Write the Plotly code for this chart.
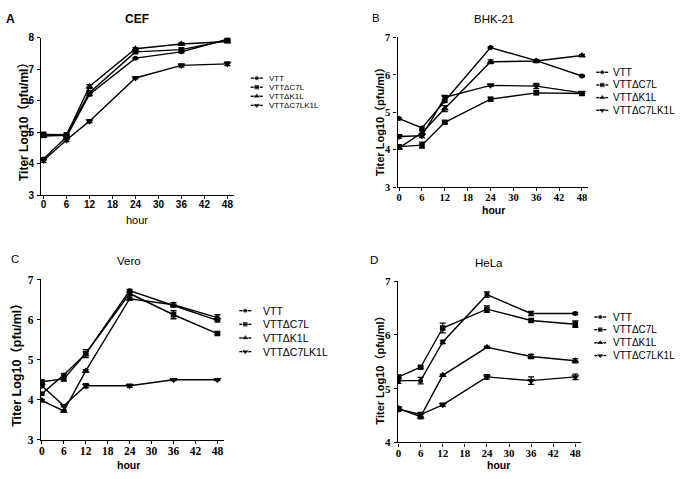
import plotly.graph_objects as go

W, H = 683, 479

hours = [0, 6, 12, 24, 36, 48]
x_ticks = [0, 6, 12, 18, 24, 30, 36, 42, 48]
series_names = ["VTT", "VTTΔC7L", "VTTΔK1L", "VTTΔC7LK1L"]
symbols = ["circle", "square", "triangle-up", "triangle-down"]
msizes = [5, 5.5, 7, 7]

# Panel A - CEF
cef_vtt = [4.15, 4.85, 6.20, 7.35, 7.55, 7.95]
cef_c7l = [4.93, 4.92, 6.25, 7.55, 7.62, 7.92]
cef_k1l = [4.88, 4.90, 6.45, 7.65, 7.80, 7.88]
cef_c7lk1l = [4.10, 4.75, 5.35, 6.72, 7.12, 7.17]
cef_err = [[0.04, 0.03, 0.05, 0.02, 0.03, 0.03],
           [0.05, 0.03, 0.08, 0.03, 0.05, 0.03],
           [0.05, 0.04, 0.06, 0.03, 0.04, 0.04],
           [0.06, 0.05, 0.05, 0.03, 0.05, 0.06]]

# Panel B - BHK-21
bhk_vtt = [4.83, 4.58, 5.30, 6.73, 6.38, 5.97]
bhk_c7l = [4.08, 4.12, 4.73, 5.35, 5.52, 5.50]
bhk_k1l = [4.05, 4.45, 5.10, 6.35, 6.37, 6.52]
bhk_c7lk1l = [4.35, 4.37, 5.40, 5.72, 5.70, 5.52]
bhk_err = [[0.02, 0.03, 0.03, 0.02, 0.03, 0.02],
           [0.05, 0.08, 0.03, 0.05, 0.05, 0.04],
           [0.04, 0.06, 0.08, 0.05, 0.04, 0.03],
           [0.05, 0.05, 0.05, 0.03, 0.07, 0.03]]

# Panel C - Vero
vero_vtt = [4.15, 4.62, 5.15, 6.72, 6.35, 5.98]
vero_c7l = [4.45, 4.52, 5.15, 6.65, 6.12, 5.65]
vero_k1l = [3.98, 3.72, 4.72, 6.52, 6.37, 6.05]
vero_c7lk1l = [4.35, 3.85, 4.35, 4.35, 4.50, 4.50]
vero_err = [[0.03, 0.03, 0.05, 0.03, 0.03, 0.04],
            [0.04, 0.05, 0.10, 0.04, 0.10, 0.03],
            [0.03, 0.03, 0.03, 0.04, 0.05, 0.07],
            [0.03, 0.03, 0.05, 0.04, 0.02, 0.02]]

# Panel D - HeLa
hela_vtt = [5.15, 5.15, 5.87, 6.75, 6.40, 6.40]
hela_c7l = [5.22, 5.40, 6.13, 6.48, 6.27, 6.20]
hela_k1l = [4.63, 4.48, 5.25, 5.77, 5.60, 5.52]
hela_c7lk1l = [4.62, 4.52, 4.70, 5.22, 5.15, 5.22]
hela_err = [[0.05, 0.06, 0.03, 0.05, 0.04, 0.02],
            [0.03, 0.02, 0.09, 0.06, 0.02, 0.06],
            [0.03, 0.04, 0.02, 0.02, 0.04, 0.04],
            [0.04, 0.04, 0.03, 0.04, 0.07, 0.05]]

panels = [
    dict(letter="A", title="CEF", series=[cef_vtt, cef_c7l, cef_k1l, cef_c7lk1l], err=cef_err,
         xpx=(39.3, 233), xr=(-0.6, 49.8), ypx=(32.5, 194), yr=(3, 8), yticks=[3, 4, 5, 6, 7, 8],
         bold=True, tickfont=dict(family="Liberation Sans", size=10),
         letter_pos=(9, 13), title_pos=(135, 13), ytitle_pos=(22, 116), ytitle_size=12,
         xtitle_pos=(135, 219), leg_rows=[74, 83.3, 92.6, 101.9], leg_mx=255.5, leg_tx=267, leg_size=8),
    dict(letter="B", title="BHK-21", series=[bhk_vtt, bhk_c7l, bhk_k1l, bhk_c7lk1l], err=bhk_err,
         xpx=(396.7, 588), xr=(-0.42, 49.66), ypx=(32.3, 185.7), yr=(3, 7), yticks=[3, 4, 5, 6, 7],
         bold=False, tickfont=dict(family="Liberation Serif", size=10.5),
         letter_pos=(375, 12), title_pos=(493, 13), ytitle_pos=(379, 116), ytitle_size=11,
         xtitle_pos=(493, 209), leg_rows=[68, 81, 94, 107], leg_mx=602, leg_tx=612, leg_size=10),
    dict(letter="C", title="Vero", series=[vero_vtt, vero_c7l, vero_k1l, vero_c7lk1l], err=vero_err,
         xpx=(39, 223), xr=(-0.27, 49.9), ypx=(280.5, 445), yr=(3, 7), yticks=[3, 4, 5, 6, 7],
         bold=False, tickfont=dict(family="Liberation Serif", size=11.5),
         letter_pos=(13, 260), title_pos=(127, 262), ytitle_pos=(15, 365), ytitle_size=12.5,
         xtitle_pos=(127, 471), leg_rows=[312.5, 326.5, 340.5, 354.5], leg_mx=244, leg_tx=261, leg_size=10.5),
    dict(letter="D", title="HeLa", series=[hela_vtt, hela_c7l, hela_k1l, hela_c7lk1l], err=hela_err,
         xpx=(397, 580.7), xr=(-0.19, 49.55), ypx=(282.3, 447.7), yr=(4, 7), yticks=[4, 5, 6, 7],
         bold=False, tickfont=dict(family="Liberation Serif", size=11),
         letter_pos=(373, 261), title_pos=(488, 264), ytitle_pos=(379, 371), ytitle_size=11,
         xtitle_pos=(498, 471), leg_rows=[319, 332, 345.5, 358.5], leg_mx=600, leg_tx=612, leg_size=10),
]

fig = go.Figure()
layout = dict(width=W, height=H, margin=dict(l=0, r=0, t=0, b=0),
              paper_bgcolor="white", plot_bgcolor="rgba(0,0,0,0)", showlegend=False,
              annotations=[])


def px2x(px):
    return px / W


def px2y(py):
    return 1 - py / H


for i, p in enumerate(panels):
    n = i + 1
    xa = "x" if n == 1 else f"x{n}"
    ya = "y" if n == 1 else f"y{n}"
    for s, vals in enumerate(p["series"]):
        fig.add_trace(go.Scatter(
            x=hours, y=vals, xaxis=xa, yaxis=ya, mode="lines+markers",
            name=series_names[s],
            line=dict(color="black", width=1.4),
            marker=dict(symbol=symbols[s], size=msizes[s], color="black"),
            error_y=dict(type="data", array=p["err"][s], color="black", thickness=1.3, width=3),
        ))
    tf = dict(p["tickfont"])
    tf["color"] = "black"
    tf["weight"] = "bold"
    axis_common = dict(showgrid=False, zeroline=False, showline=True, linecolor="black", linewidth=1.4,
                       ticks="outside", ticklen=3, tickwidth=1.2, tickcolor="black", tickfont=tf)
    layout["xaxis" if n == 1 else f"xaxis{n}"] = dict(
        axis_common, domain=[px2x(p["xpx"][0]), px2x(p["xpx"][1])], range=list(p["xr"]),
        tickvals=x_ticks, anchor=ya, ticklabelstandoff=-3)
    layout["yaxis" if n == 1 else f"yaxis{n}"] = dict(
        axis_common, domain=[px2y(p["ypx"][1]), px2y(p["ypx"][0])], range=list(p["yr"]),
        tickvals=p["yticks"], anchor=xa, ticklabelstandoff=1)

    fam = "Liberation Sans, Noto Sans CJK SC"
    wt = "bold" if p["bold"] else "normal"
    ann = layout["annotations"]
    ann.append(dict(x=px2x(p["letter_pos"][0]), y=px2y(p["letter_pos"][1]), xref="paper", yref="paper",
                    text=p["letter"], showarrow=False, xanchor="center", yanchor="middle",
                    font=dict(family=fam, size=12 if p["bold"] else 11.5, color="black", weight=wt)))
    ann.append(dict(x=px2x(p["title_pos"][0]), y=px2y(p["title_pos"][1]), xref="paper", yref="paper",
                    text=p["title"], showarrow=False, xanchor="center", yanchor="middle",
                    font=dict(family=fam, size=12 if p["bold"] else 11.5, color="black", weight=wt)))
    ann.append(dict(x=px2x(p["ytitle_pos"][0]), y=px2y(p["ytitle_pos"][1]), xref="paper", yref="paper",
                    text="Titer Log10（pfu/ml）", textangle=-90, showarrow=False,
                    xanchor="center", yanchor="middle",
                    font=dict(family=fam, size=p["ytitle_size"], color="black", weight="bold")))
    ann.append(dict(x=px2x(p["xtitle_pos"][0]), y=px2y(p["xtitle_pos"][1]), xref="paper", yref="paper",
                    text="hour", showarrow=False, xanchor="center", yanchor="middle", borderpad=0,
                    font=dict(family=fam, size=11 if p["bold"] else 10.5, color="black",
                              weight="normal" if p["bold"] else "bold")))

    # manual legend on a pixel-coordinate overlay axis
    lx = f"x{n + 4}"
    ly = f"y{n + 4}"
    for s, name in enumerate(series_names):
        ry = p["leg_rows"][s]
        fig.add_trace(go.Scatter(
            x=[p["leg_mx"] - 6, p["leg_mx"], p["leg_mx"] + 6], y=[ry, ry, ry],
            xaxis=lx, yaxis=ly, mode="lines+markers", hoverinfo="skip",
            line=dict(color="black", width=1.4),
            marker=dict(symbol=symbols[s], size=[0, msizes[s], 0], color="black")))
        ann.append(dict(x=px2x(p["leg_tx"]), y=px2y(ry), xref="paper", yref="paper", text=name,
                        showarrow=False, xanchor="left", yanchor="middle", borderpad=0,
                        font=dict(family="Liberation Sans", size=p["leg_size"], color="black")))
    layout[f"xaxis{n + 4}"] = dict(domain=[0, 1], range=[0, W], visible=False, anchor=ly, fixedrange=True)
    layout[f"yaxis{n + 4}"] = dict(domain=[0, 1], range=[H, 0], visible=False, anchor=lx, fixedrange=True)

fig.update_layout(**layout)
fig.write_html("out.html", config={"displayModeBar": False},
               post_script="document.body.style.margin='0px';document.body.style.overflow='hidden';")
